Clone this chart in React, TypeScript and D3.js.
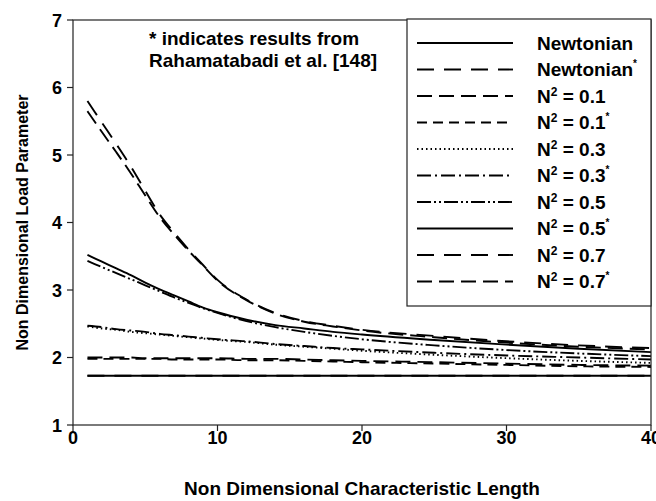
import React from "react";
import * as d3 from "d3";

// Non-dimensional characteristic length (shared sample points)
const lengths = [1, 2, 3, 4, 5, 6, 7, 8, 9, 10, 12, 14, 16, 18, 20, 25, 30, 35, 40];

// Non-dimensional load parameter for each case
const newtonian = [1.73, 1.73, 1.73, 1.73, 1.73, 1.73, 1.73, 1.73, 1.73, 1.73, 1.73, 1.73, 1.73, 1.73, 1.73, 1.73, 1.73, 1.73, 1.73];
const newtonianRef = [1.73, 1.73, 1.73, 1.73, 1.73, 1.73, 1.73, 1.73, 1.73, 1.73, 1.73, 1.73, 1.73, 1.73, 1.73, 1.73, 1.73, 1.73, 1.73];
const n01 = [2.0, 2.0, 2.0, 2.0, 1.99, 1.99, 1.99, 1.99, 1.99, 1.99, 1.98, 1.98, 1.97, 1.96, 1.95, 1.93, 1.91, 1.89, 1.88];
const n01Ref = [1.98, 1.98, 1.98, 1.98, 1.98, 1.98, 1.97, 1.97, 1.97, 1.97, 1.96, 1.96, 1.95, 1.94, 1.93, 1.91, 1.89, 1.87, 1.86];
const n03 = [2.46, 2.43, 2.41, 2.38, 2.36, 2.34, 2.32, 2.3, 2.28, 2.26, 2.23, 2.19, 2.16, 2.13, 2.1, 2.04, 1.99, 1.95, 1.92];
const n03Ref = [2.47, 2.45, 2.42, 2.4, 2.38, 2.35, 2.33, 2.31, 2.29, 2.27, 2.24, 2.2, 2.17, 2.14, 2.12, 2.07, 2.03, 2.0, 1.97];
const n05 = [3.43, 3.34, 3.25, 3.16, 3.07, 2.98, 2.89, 2.81, 2.73, 2.66, 2.54, 2.45, 2.38, 2.32, 2.27, 2.18, 2.11, 2.06, 2.02];
const n05Ref = [3.52, 3.42, 3.32, 3.22, 3.11, 3.01, 2.92, 2.83, 2.74, 2.67, 2.56, 2.48, 2.43, 2.38, 2.34, 2.26, 2.19, 2.13, 2.08];
const n07 = [5.8, 5.48, 5.16, 4.83, 4.47, 4.12, 3.85, 3.6, 3.37, 3.15, 2.86, 2.66, 2.54, 2.47, 2.41, 2.32, 2.24, 2.18, 2.14];
const n07Ref = [5.65, 5.34, 5.04, 4.73, 4.4, 4.08, 3.82, 3.58, 3.36, 3.14, 2.85, 2.65, 2.53, 2.46, 2.4, 2.3, 2.22, 2.16, 2.12];

const xTicks = [0, 10, 20, 30, 40];
const yTicks = [1, 2, 3, 4, 5, 6, 7];

type Series = { base: string; sup: string; star: boolean; values: number[]; dash: string | null };

const series: Series[] = [
  { base: "Newtonian", sup: "", star: false, values: newtonian, dash: null },
  { base: "Newtonian", sup: "", star: true, values: newtonianRef, dash: "17,10" },
  { base: "N", sup: "2", star: false, values: n01, dash: "15,7" },
  { base: "N", sup: "2", star: true, values: n01Ref, dash: "10,6" },
  { base: "N", sup: "2", star: false, values: n03, dash: "1.5,3" },
  { base: "N", sup: "2", star: true, values: n03Ref, dash: "14,4,2,4" },
  { base: "N", sup: "2", star: false, values: n05, dash: "14,3,2,3,2,3" },
  { base: "N", sup: "2", star: true, values: n05Ref, dash: null },
  { base: "N", sup: "2", star: false, values: n07, dash: "17,10" },
  { base: "N", sup: "2", star: true, values: n07Ref, dash: "15,7" },
];
const nValues = ["", "", " = 0.1", " = 0.1", " = 0.3", " = 0.3", " = 0.5", " = 0.5", " = 0.7", " = 0.7"];

const W = 656;
const H = 501;
const left = 73;
const right = 651;
const top = 20;
const bottom = 425;

const FONT = "'Liberation Sans', Arial, sans-serif";

export default function App() {
  const x = d3.scaleLinear().domain([0, 40]).range([left, right]);
  const y = d3.scaleLinear().domain([1, 7]).range([bottom, top]);
  const line = d3
    .line<number>()
    .x((_, i) => x(lengths[i]))
    .y((v) => y(v))
    .curve(d3.curveMonotoneX);

  const legX0 = 407;
  const legY0 = 19;
  const legX1 = 651;
  const legY1 = 306;
  const rowY = (i: number) => 43 + 26.5 * i;

  return (
    <div style={{ position: "fixed", left: 0, top: 0 }}>
      <svg width={W} height={H} style={{ display: "block", background: "#fff" }} fontFamily={FONT}>
        {/* curves */}
        {series.map((s, i) => (
          <path
            key={i}
            d={line(s.values) || ""}
            fill="none"
            stroke="#000"
            strokeWidth={1.9}
            strokeDasharray={s.dash || undefined}
          />
        ))}

        {/* frame */}
        <rect x={left} y={top} width={right - left} height={bottom - top} fill="none" stroke="#222" strokeWidth={1.2} />

        {/* x ticks */}
        {xTicks.map((t) => (
          <g key={t}>
            <line x1={x(t)} x2={x(t)} y1={bottom} y2={bottom + 6} stroke="#222" strokeWidth={1.2} />
            <text x={x(t)} y={bottom + 19} textAnchor="middle" fontSize={18} fontWeight="bold">
              {t}
            </text>
          </g>
        ))}
        {/* y ticks */}
        {yTicks.map((t) => (
          <g key={t}>
            <line x1={left - 6} x2={left} y1={y(t)} y2={y(t)} stroke="#222" strokeWidth={1.2} />
            <text x={62} y={y(t) + 6.5} textAnchor="end" fontSize={18} fontWeight="bold">
              {t}
            </text>
          </g>
        ))}

        {/* axis titles */}
        <text x={(left + right) / 2} y={495} textAnchor="middle" fontSize={19} fontWeight="bold">
          Non Dimensional Characteristic Length
        </text>
        <text
          transform={`translate(28, ${(top + bottom) / 2}) rotate(-90)`}
          textAnchor="middle"
          fontSize={16}
          fontWeight="bold"
        >
          Non Dimensional Load Parameter
        </text>

        {/* note */}
        <text x={149} y={44.5} fontSize={19} fontWeight="bold">
          * indicates results from
        </text>
        <text x={149} y={66.5} fontSize={19} fontWeight="bold">
          Rahamatabadi et al. [148]
        </text>

        {/* legend */}
        <rect x={legX0} y={legY0} width={legX1 - legX0} height={legY1 - legY0} fill="#fff" stroke="#222" strokeWidth={1.2} />
        {series.map((s, i) => (
          <g key={i}>
            <line
              x1={417}
              x2={513}
              y1={rowY(i)}
              y2={rowY(i)}
              stroke="#000"
              strokeWidth={1.9}
              strokeDasharray={s.dash || undefined}
            />
            <text x={537} y={rowY(i) + 6.5} fontSize={19} fontWeight="bold">
              {s.base}
              {s.sup && (
                <tspan fontSize={12} dy={-7}>
                  {s.sup}
                </tspan>
              )}
              {s.sup && <tspan dy={7}>{nValues[i]}</tspan>}
              {s.star && (
                <tspan fontSize={10} dy={-9}>
                  *
                </tspan>
              )}
            </text>
          </g>
        ))}
      </svg>
    </div>
  );
}
